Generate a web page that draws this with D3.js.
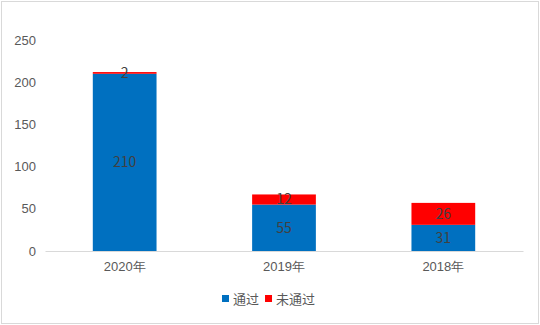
<!DOCTYPE html>
<html lang="zh">
<head>
<meta charset="UTF-8">
<title>通过统计</title>
<script src="https://cdn.jsdelivr.net/npm/d3@7/dist/d3.min.js"></script>
<style>
    html, body { margin: 0; padding: 0; background: #fff; }
    svg { display: block; font-family: "Noto Sans CJK SC", "Microsoft YaHei", sans-serif; }
    .axis text { fill: #595959; font-size: 13px; }
    .label { fill: #404040; font-size: 14px; }
</style>
</head>
<body>
<div id="chart"></div>
<script>
// data
var categories = ['2020年', '2019年', '2018年'];
var passed = [210, 55, 31];
var failed = [2, 12, 26];
var seriesNames = ['通过', '未通过'];
var yTicks = [0, 50, 100, 150, 200, 250];

var colors = ['#0070C0', '#FF0000'];

var width = 540, height = 325;
var plotLeft = 45, plotRight = 523, plotTop = 40, plotBottom = 251;

var svg = d3.select('#chart').append('svg')
    .attr('width', width)
    .attr('height', height);

// outer frame
svg.append('rect')
    .attr('x', 1.5).attr('y', 1.5)
    .attr('width', width - 3).attr('height', height - 3)
    .attr('fill', '#fff')
    .attr('stroke', '#d9d9d9');

var x = d3.scaleBand()
    .domain(categories)
    .range([plotLeft, plotRight])
    .paddingInner(0.6)
    .paddingOuter(0.3);

var y = d3.scaleLinear()
    .domain([0, 250])
    .range([plotBottom, plotTop]);

var rows = categories.map(function(c, i) {
    return { cat: c, '通过': passed[i], '未通过': failed[i] };
});
var stacked = d3.stack().keys(seriesNames)(rows);

// y axis labels (no line)
var yAxis = svg.append('g')
    .attr('class', 'axis')
    .attr('transform', 'translate(' + (plotLeft - 9) + ',0)')
    .call(d3.axisLeft(y).tickValues(yTicks).tickSize(0).tickPadding(0));
yAxis.select('.domain').remove();

// bars
stacked.forEach(function(s, si) {
    svg.append('g').selectAll('rect')
        .data(s)
        .enter().append('rect')
        .attr('x', function(d) { return x(d.data.cat); })
        .attr('y', function(d) { return y(d[1]); })
        .attr('width', x.bandwidth())
        .attr('height', function(d) { return y(d[0]) - y(d[1]); })
        .attr('fill', colors[si]);
});

// data labels on top of all bars
stacked.forEach(function(s) {
    svg.append('g').selectAll('text')
        .data(s)
        .enter().append('text')
        .attr('class', 'label')
        .attr('x', function(d) { return x(d.data.cat) + x.bandwidth() / 2; })
        .attr('y', function(d) { return (y(d[0]) + y(d[1])) / 2; })
        .attr('dy', '0.35em')
        .attr('text-anchor', 'middle')
        .text(function(d) { return d[1] - d[0]; });
});

// x axis
var xAxis = svg.append('g')
    .attr('class', 'axis')
    .attr('transform', 'translate(0,' + plotBottom + ')')
    .call(d3.axisBottom(x).tickSize(0).tickPadding(11));
xAxis.select('.domain').attr('stroke', '#d9d9d9');

// legend
var legend = svg.append('g').attr('transform', 'translate(222,299)');
var lx = 0;
seriesNames.forEach(function(name, i) {
    var g = legend.append('g').attr('transform', 'translate(' + lx + ',0)');
    g.append('rect')
        .attr('x', 0).attr('y', -4)
        .attr('width', 7).attr('height', 7)
        .attr('fill', colors[i]);
    var t = g.append('text')
        .attr('x', 11).attr('dy', '0.35em')
        .attr('fill', '#595959')
        .style('font-size', '13px')
        .text(name);
    lx += 11 + t.node().getComputedTextLength() + 6;
});
</script>
</body>
</html>
